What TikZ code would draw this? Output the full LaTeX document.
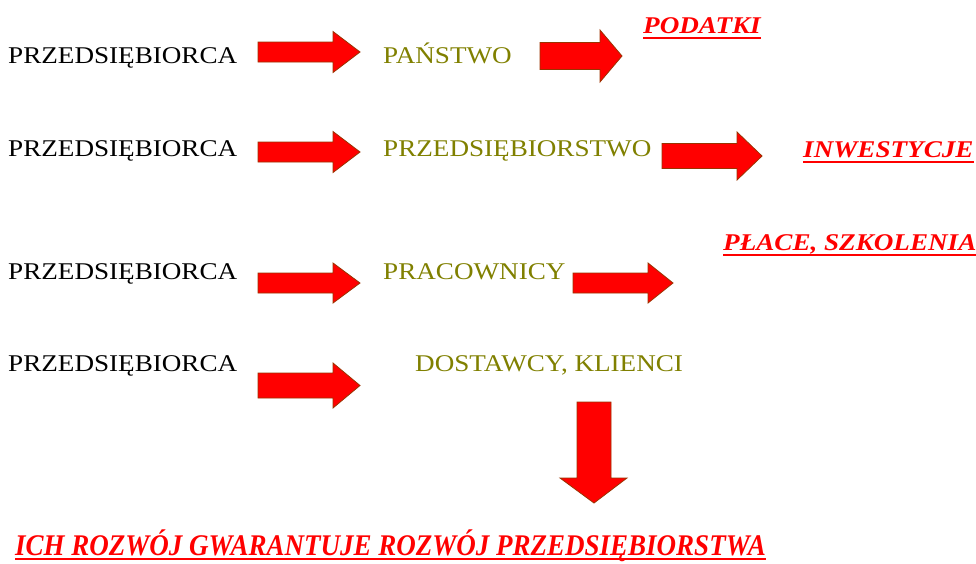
\documentclass[tikz,border=0pt]{standalone}
\usepackage{fontspec}
\setmainfont{Liberation Serif}[FakeStretch=1.13]
\newfontfamily\bottomfont{Liberation Serif}[FakeStretch=0.9]
\definecolor{olivetxt}{RGB}{128,128,0}
\definecolor{arrowred}{RGB}{255,0,0}
\definecolor{arrowedge}{RGB}{153,51,0}
\tikzset{
  blockarrow/.style={fill=arrowred, draw=arrowedge, line width=0.8pt, line join=miter},
  plain/.style={anchor=base west, inner sep=0pt, font=\fontsize{24}{26}\selectfont, text=black},
  target/.style={anchor=base west, inner sep=0pt, font=\fontsize{24}{26}\selectfont, text=olivetxt},
  result/.style={anchor=base west, inner sep=0pt, font=\fontsize{24}{26}\selectfont\bfseries\itshape, text=red},
  uline/.style={draw=red, line width=2.6pt}
}
\newcommand\harrow[6]{% x1, xbase, xtip, yc, shaft half, head half
  \draw[blockarrow] (#1,{#4-#5}) -- (#2,{#4-#5}) -- (#2,{#4-#6}) -- (#3,#4) -- (#2,{#4+#6}) -- (#2,{#4+#5}) -- (#1,{#4+#5}) -- cycle;}
\begin{document}
\begin{tikzpicture}[x=1pt,y=-1pt]
\useasboundingbox (0,0) rectangle (976,563);
% row 1
\node[plain] (p1) at (8,63) {PRZEDSIĘBIORCA};
\node[target] (t1) at (383,63) {PAŃSTWO};
\node[result] (r1) at (643,33) {PODATKI};
\draw[uline] ([yshift=-5pt]r1.base west) -- ([yshift=-5pt]r1.base east);
\harrow{258}{333}{360}{52}{10}{20.5}
\harrow{540}{600}{622}{56}{13.5}{26}
% row 2
\node[plain] (p2) at (8,156) {PRZEDSIĘBIORCA};
\node[target] (t2) at (383,156) {PRZEDSIĘBIORSTWO};
\node[result] (r2) at (803,157) {INWESTYCJE};
\draw[uline] ([yshift=-5pt]r2.base west) -- ([yshift=-5pt]r2.base east);
\harrow{258}{333}{360}{152}{10}{20.5}
\harrow{662}{737}{762}{156}{12.5}{24}
% row 3
\node[plain] (p3) at (8,279) {PRZEDSIĘBIORCA};
\node[target] (t3) at (383,279) {PRACOWNICY};
\node[result] (r3) at (723,250) {PŁACE, SZKOLENIA};
\draw[uline] ([yshift=-5pt]r3.base west) -- ([yshift=-5pt]r3.base east);
\harrow{258}{333}{360}{283}{10}{20}
\harrow{573}{648}{673}{283}{10}{20}
% row 4
\node[plain] (p4) at (8,371) {PRZEDSIĘBIORCA};
\node[target] (t4) at (415,371) {DOSTAWCY, KLIENCI};
\harrow{258}{333}{360}{385.5}{12.5}{22.5}
% down arrow
\draw[blockarrow] (577,402) -- (611,402) -- (611,478) -- (627,478) -- (594,503) -- (560,478) -- (577,478) -- cycle;
% bottom
\node[anchor=base west, inner sep=0pt, font=\bottomfont\fontsize{30}{32}\selectfont\bfseries\itshape, text=red] (b) at (15,555) {ICH ROZWÓJ GWARANTUJE ROZWÓJ PRZEDSIĘBIORSTWA};
\draw[uline] ([yshift=-4pt]b.base west) -- ([yshift=-4pt]b.base east);
\end{tikzpicture}
\end{document}
